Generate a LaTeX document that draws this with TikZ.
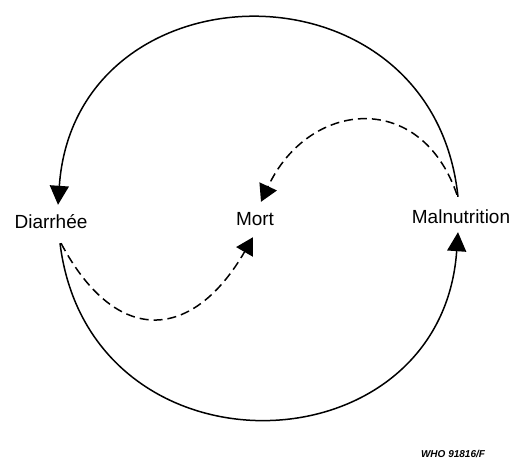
\documentclass[tikz,border=0pt]{standalone}
\usepackage{fontspec}
\setmainfont{Liberation Sans}
\usetikzlibrary{arrows.meta}
\begin{document}
\begin{tikzpicture}[x=1pt,y=1pt,
  lbl/.style={inner sep=0pt, text height=14pt, text depth=0pt, font=\fontsize{19}{22}\selectfont},
  solidarc/.style={line width=1.5pt, -{Triangle[length=19pt,width=19pt]}},
  dasharc/.style={line width=1.5pt, dash pattern=on 9pt off 5pt, -{Triangle[length=17pt,width=19pt]}},
  codelbl/.style={inner sep=0pt, font=\fontsize{10}{12}\selectfont\bfseries\itshape}]
\useasboundingbox (0,0) rectangle (518,460);
\node[lbl] (dia) at (51,238.5) {Diarrhée};
\node[lbl] (mort) at (255,241) {Mort};
\node[lbl] (mal) at (461,243.5) {Malnutrition};
\node[codelbl] (who) at (453,6.5) {WHO 91816/F};
% solid outer circle
\draw[solidarc] ([shift={(-3,12.5)}]mal.north) .. controls +(96:244) and +(86:244) .. ([shift={(7,9.5)}]dia.north);
\draw[solidarc] ([shift={(9,-14.5)}]dia.south) .. controls +(277:242) and +(266:242) .. ([shift={(-3,-8.5)}]mal.south);
% dashed inner arcs
\draw[dasharc] ([shift={(-4,14.5)}]mal.north) .. controls +(109:112) and +(65:112) .. ([shift={(6,10)}]mort.north);
\draw[dasharc] ([shift={(10,-14.5)}]dia.south) .. controls +(298:119) and +(240:119) .. ([shift={(-2,-11)}]mort.south);
\end{tikzpicture}
\end{document}
